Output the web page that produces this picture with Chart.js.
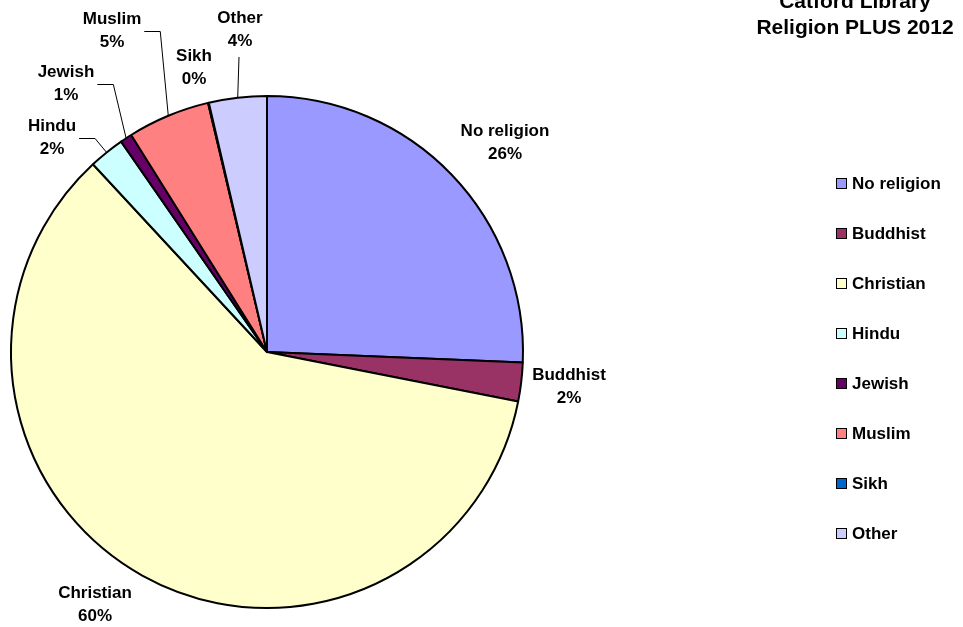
<!DOCTYPE html>
<html>
<head>
<meta charset="utf-8">
<title>Catford Library - Religion PLUS 2012</title>
<script src="https://cdn.jsdelivr.net/npm/chart.js@4.4.1/dist/chart.umd.min.js"></script>
<style>
  html, body { margin: 0; padding: 0; background: #fff; }
  #wrap { width: 963px; height: 627px; }
</style>
</head>
<body>
<div id="wrap"><canvas id="chart" width="963" height="627"></canvas></div>
<script>
// Catford Library - Religion PLUS 2012 pie chart

const titleLines = ['Catford Library', 'Religion PLUS 2012'];
const categories = ['No religion', 'Buddhist', 'Christian', 'Hindu', 'Jewish', 'Muslim', 'Sikh', 'Other'];
const shares = [25.65, 2.45, 60.0, 2.25, 0.75, 5.2, 0.05, 3.65];
const sliceColors = ['#9999FF', '#993366', '#FFFFCC', '#CCFFFF', '#660066', '#FF8080', '#0066CC', '#CCCCFF'];

const FONT = '"Liberation Sans", Arial, sans-serif';

// where the data labels sit (centre of the 2-line block) and their leader style
const labelSpots = {
  'No religion': { x: 505, y: 143 },
  'Buddhist':    { x: 569, y: 387 },
  'Christian':   { x: 95,  y: 605 },
  'Hindu':       { x: 52,  y: 138, leader: 'h' },
  'Jewish':      { x: 66,  y: 84,  leader: 'h' },
  'Muslim':      { x: 112, y: 31,  leader: 'h' },
  'Sikh':        { x: 194, y: 68 },
  'Other':       { x: 240, y: 30,  leader: 'v' },
};

const pieLabels = {
  id: 'pieLabels',
  afterDatasetsDraw(chart) {
    const ctx = chart.ctx;
    const meta = chart.getDatasetMeta(0);
    const total = shares.reduce((a, b) => a + b, 0);
    ctx.save();
    ctx.font = 'bold 17px ' + FONT;
    ctx.fillStyle = '#000';
    ctx.textAlign = 'center';
    ctx.textBaseline = 'middle';
    meta.data.forEach((arc, i) => {
      const name = categories[i];
      const spot = labelSpots[name];
      if (!spot) return;
      const pct = Math.round(shares[i] / total * 100) + '%';
      ctx.fillText(name, spot.x, spot.y - 11.5);
      ctx.fillText(pct, spot.x, spot.y + 11.5);

      if (spot.leader) {
        const a = (arc.startAngle + arc.endAngle) / 2;
        const ex = arc.x + Math.cos(a) * arc.outerRadius;
        const ey = arc.y + Math.sin(a) * arc.outerRadius;
        ctx.beginPath();
        ctx.strokeStyle = '#000';
        ctx.lineWidth = 1;
        if (spot.leader === 'h') {
          const w = Math.max(ctx.measureText(name).width, ctx.measureText(pct).width);
          const x0 = spot.x + w / 2 + 3;
          ctx.moveTo(x0, spot.y + 0.5);
          ctx.lineTo(x0 + 16, spot.y + 0.5);
          ctx.lineTo(ex, ey);
        } else {
          ctx.moveTo(spot.x - 1, spot.y + 27);
          ctx.lineTo(ex, ey);
        }
        ctx.stroke();
      }
    });
    ctx.restore();
  },
};

const sideBits = {
  id: 'sideBits',
  afterDraw(chart) {
    const ctx = chart.ctx;
    ctx.save();
    // title
    ctx.font = 'bold 21px ' + FONT;
    ctx.fillStyle = '#000';
    ctx.textAlign = 'center';
    ctx.textBaseline = 'alphabetic';
    ctx.fillText(titleLines[0], 855, 8);
    ctx.fillText(titleLines[1], 855, 34);

    // legend
    ctx.font = 'bold 17px ' + FONT;
    ctx.textAlign = 'left';
    ctx.textBaseline = 'middle';
    categories.forEach((name, i) => {
      const y = 183 + i * 50;
      ctx.fillStyle = sliceColors[i];
      ctx.fillRect(836, y - 5, 11, 11);
      ctx.strokeStyle = '#000';
      ctx.lineWidth = 1;
      ctx.strokeRect(836.5, y - 4.5, 10, 10);
      ctx.fillStyle = '#000';
      ctx.fillText(name, 852, y + 1);
    });
    ctx.restore();
  },
};

new Chart(document.getElementById('chart'), {
  type: 'pie',
  data: {
    labels: categories,
    datasets: [{
      data: shares,
      backgroundColor: sliceColors,
      borderColor: '#000',
      borderWidth: 2,
    }],
  },
  options: {
    responsive: false,
    animation: false,
    radius: 256,
    layout: {
      padding: { left: 11, right: 440, top: 96, bottom: 19 },
    },
    plugins: {
      legend: { display: false },
      title: { display: false },
      tooltip: { enabled: false },
    },
  },
  plugins: [pieLabels, sideBits],
});
</script>
</body>
</html>
